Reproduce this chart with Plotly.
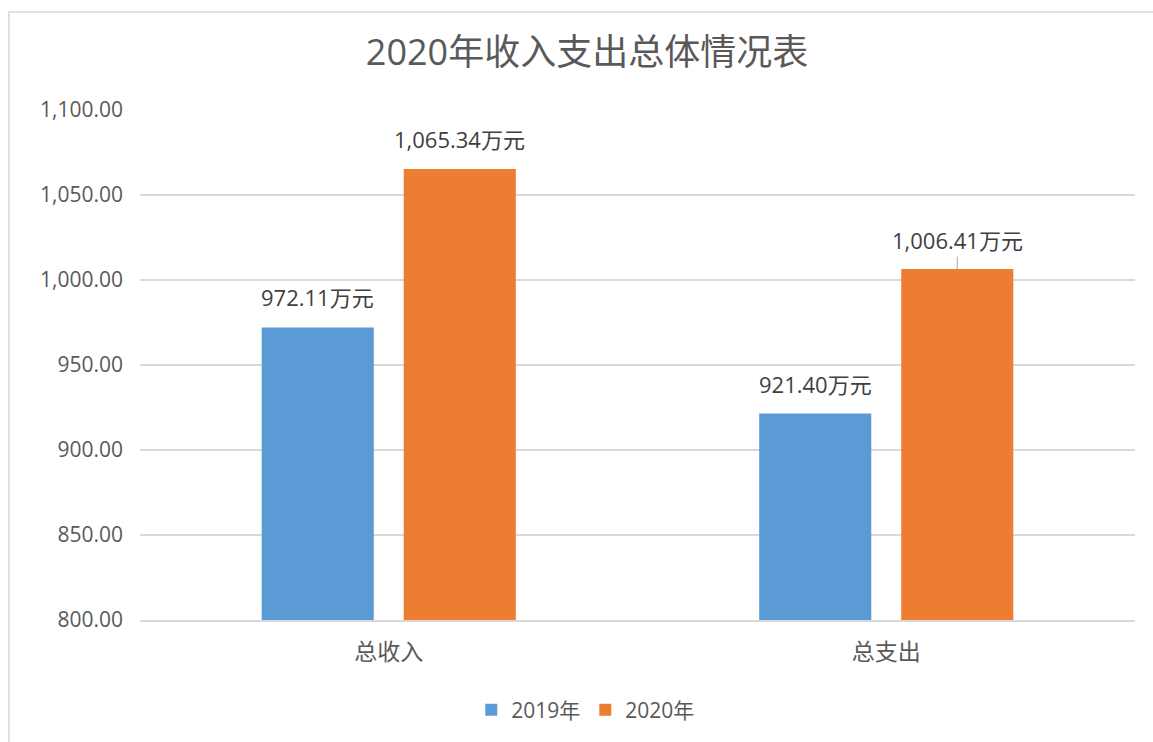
import plotly.graph_objects as go

categories = ["总收入", "总支出"]
series_names = ["2019年", "2020年"]
values_2019 = [972.11, 921.40]
values_2020 = [1065.34, 1006.41]
colors = ["#5B9BD5", "#ED7D31"]
unit = "万元"

FONT = "Open Sans, Noto Sans CJK SC, sans-serif"
TXT = "#595959"

fig = go.Figure()
for name, vals, col in zip(series_names, [values_2019, values_2020], colors):
    fig.add_trace(go.Bar(x=categories, y=vals, name=name, marker_color=col,
                         marker_line_width=0))

# data labels
offsets = [-71, 71]
for vals, dx in zip([values_2019, values_2020], offsets):
    for cat, v in zip(categories, vals):
        lead = (cat == "总支出" and vals is values_2020)
        fig.add_annotation(
            x=cat, y=v, xref="x", yref="y",
            text=f"{v:,.2f}{unit}", xshift=dx,
            showarrow=lead, arrowhead=0, arrowwidth=1, arrowcolor="#a6a6a6",
            ax=0, ay=-29 if lead else 0,
            yshift=0 if lead else 30,
            font=dict(family=FONT, size=22, color="#404040"),
        )

# outer chart frame (partially cropped)
fig.add_shape(type="rect", xref="paper", yref="paper",
              x0=(9 - 140) / 995, x1=(1175 - 140) / 995,
              y0=(620 - 770) / 510, y1=(620 - 12) / 510,
              line=dict(color="#d9d9d9", width=1.5), fillcolor="rgba(0,0,0,0)",
              layer="below")

W, H = 1153, 742
fig.update_layout(
    width=W, height=H,
    margin=dict(l=140, r=18, t=110, b=122, autoexpand=False),
    paper_bgcolor="white", plot_bgcolor="white",
    barmode="group", bargap=0.429, bargroupgap=0.211,
    title=dict(text="2020年收入支出总体情况表", x=587 / W, xanchor="center",
               y=1 - 52 / H, yanchor="middle",
               font=dict(family=FONT, size=36, color=TXT)),
    font=dict(family=FONT, color=TXT),
    showlegend=True,
    legend=dict(orientation="h", x=0.448, xanchor="center",
                y=(620 - 710) / 510, yanchor="middle",
                font=dict(family=FONT, size=21, color=TXT),
                itemwidth=30, traceorder="normal"),
    xaxis=dict(showgrid=False, showline=True, linecolor="#d9d9d9", linewidth=1.5,
               ticks="", tickfont=dict(family=FONT, size=23, color=TXT),
               ticklabelstandoff=11),
    yaxis=dict(range=[800, 1100], dtick=50, tickformat=",.2f",
               showgrid=True, gridcolor="#d9d9d9", gridwidth=1.5,
               zeroline=False, showline=False, ticks="",
               tickfont=dict(family=FONT, size=21, color=TXT),
               ticklabelstandoff=16),
)

fig.write_html(
    "out.html",
    config={"displayModeBar": False},
    post_script="document.body.style.margin='0';document.body.style.overflow='hidden';",
)
